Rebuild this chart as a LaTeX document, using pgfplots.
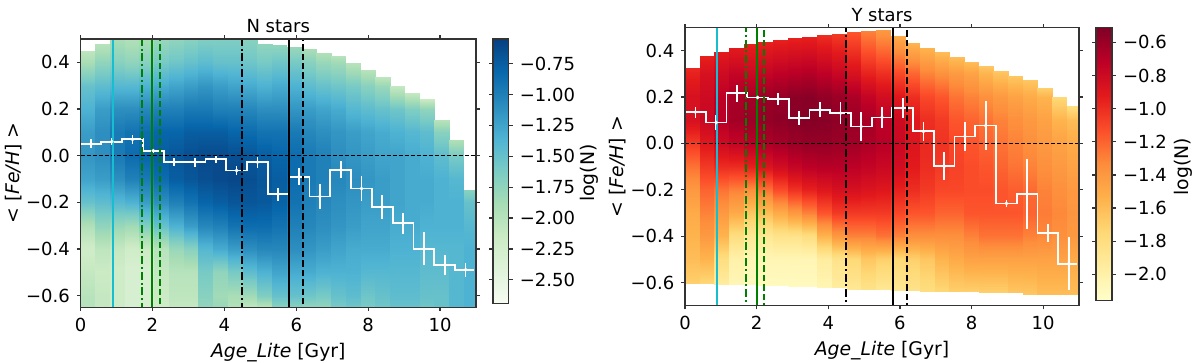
\documentclass[border=0pt]{standalone}
\usepackage{pgfplots}
\pgfplotsset{compat=1.18}
\usepackage{fontspec}
\setmainfont{DejaVu Sans}
\definecolor{tabcyan}{RGB}{23,190,207}
\definecolor{mplgreen}{RGB}{0,128,0}
\pgfplotsset{
  colormap={gnbu}{rgb255=(247,252,240) rgb255=(224,243,219) rgb255=(204,235,197) rgb255=(168,221,181) rgb255=(123,204,196) rgb255=(78,179,211) rgb255=(43,140,190) rgb255=(8,104,172) rgb255=(8,64,129)},
  colormap={ylorrd}{rgb255=(255,255,204) rgb255=(255,237,160) rgb255=(254,217,118) rgb255=(254,178,76) rgb255=(253,141,60) rgb255=(252,78,42) rgb255=(227,26,28) rgb255=(189,0,38) rgb255=(128,0,38)},
  every axis title/.style={at={(0.5,1)}, anchor=base, yshift=3pt},
  hmap/.style={surf, shader=interp, mesh/cols=2, point meta=explicit, forget plot},
  panel/.style={scale only axis, xmin=0, xmax=11, axis on top, tick align=outside,
    major tick length=1.8pt,
    xtick={0,2,4,6,8,10}, xticklabels={0,2,4,6,8,10},
    ytick={-0.6,-0.4,-0.2,0,0.2,0.4}, yticklabels={−0.6,−0.4,−0.2,0.0,0.2,0.4},
    font=\fontsize{9}{11}\selectfont,
    xlabel={\textit{Age\_Lite} [Gyr]}, ylabel={<\ [\textit{Fe/H}]\ >},
    xlabel style={yshift=1pt, font=\fontsize{9.4}{11}\selectfont},
    axis line style={black!80, line width=0.6pt},
    every tick/.style={black!80, line width=0.6pt},
    colorbar},
  cbar/.style={font=\fontsize{9}{11}\selectfont, anchor=north west,
    yticklabel pos=right, tick align=outside, major tick length=2pt,
    axis line style={black!80, line width=0.6pt}, every tick/.style={black!80, line width=0.6pt}},
  stepline/.style={white, line width=0.9pt, const plot, forget plot},
  errpts/.style={white, only marks, mark=*, mark size=0.7pt, forget plot,
    error bars/.cd, x dir=both, x explicit, y dir=both, y explicit,
    error bar style={white, line width=0.85pt}, error mark=none},
  hdash/.style={black, line width=0.6pt, dash pattern=on 2pt off 1pt, forget plot},
  vsolid/.style={line width=1pt, forget plot},
  vdash/.style={line width=1pt, dash pattern=on 3.2pt off 1.5pt, forget plot},
  vdashdot/.style={line width=1pt, dash pattern=on 4pt off 1.4pt on 1pt off 1.4pt, forget plot},
}
\newcommand\hcol[3]{%
  \gdef\hcpts{}%
  \foreach \yy/\cc in {#3}{\xdef\hcpts{\hcpts (#1,\yy) [\cc] (#2,\yy) [\cc]}}%
  \edef\hcdo{\noexpand\addplot[hmap] coordinates {\hcpts};}%
  \hcdo}
\begin{document}
\begin{tikzpicture}
\useasboundingbox (0,0) rectangle (600pt,181.5pt);
% ---------------- N stars ----------------
\begin{axis}[panel, name=nax, at={(40.25pt,27.85pt)}, anchor=south west,
  width=197.75pt, height=134.15pt, ymin=-0.65, ymax=0.5,
  ylabel style={at={(axis description cs:-0.168,0.5)}, anchor=center, font=\fontsize{9.4}{11}\selectfont},
  title={N stars}, colormap name=gnbu,
  point meta min=-2.69, point meta max=-0.55,
  colorbar style={cbar, width=7.85pt, height=132.15pt,
    at={([xshift=6.15pt,yshift=-1pt]parent axis.north east)},
    ytick={-2.5,-2.25,-2,-1.75,-1.5,-1.25,-1,-0.75},
    yticklabels={−2.50,−2.25,−2.00,−1.75,−1.50,−1.25,−1.00,−0.75}}]
\hcol{0}{0.41}{-0.65/-2.0, -0.6/-2.0, -0.5/-2.1, -0.4/-2.2, -0.3/-1.95, -0.2/-1.5, -0.1/-1.25, 0/-1.15, 0.1/-1.2, 0.2/-1.35, 0.3/-1.5, 0.4/-1.9, 0.45/-2.05}
\hcol{0.41}{0.82}{-0.65/-2.1, -0.6/-2.1, -0.5/-2.15, -0.4/-2.05, -0.3/-1.75, -0.2/-1.45, -0.1/-1.2, 0/-1.1, 0.1/-1.1, 0.2/-1.2, 0.3/-1.45, 0.4/-1.75, 0.48/-2.0}
\hcol{0.82}{1.23}{-0.65/-2.2, -0.6/-2.2, -0.5/-2.2, -0.4/-2.1, -0.3/-1.8, -0.2/-1.4, -0.1/-1.1, 0/-0.95, 0.1/-0.95, 0.2/-1.1, 0.3/-1.4, 0.4/-1.7, 0.5/-1.9}
\hcol{1.23}{1.64}{-0.65/-2.3, -0.6/-2.3, -0.5/-2.3, -0.4/-2.2, -0.3/-1.85, -0.2/-1.35, -0.1/-1.0, 0/-0.85, 0.1/-0.9, 0.2/-1.1, 0.3/-1.4, 0.4/-1.75, 0.5/-1.95}
\hcol{1.64}{2.05}{-0.65/-2.3, -0.6/-2.3, -0.5/-2.3, -0.4/-2.15, -0.3/-1.65, -0.2/-1.2, -0.1/-0.95, 0/-0.8, 0.1/-0.85, 0.2/-1.05, 0.3/-1.35, 0.4/-1.7, 0.5/-1.9}
\hcol{2.05}{2.46}{-0.65/-2.2, -0.6/-2.15, -0.5/-2.1, -0.4/-2.0, -0.3/-1.5, -0.2/-1.1, -0.1/-0.85, 0/-0.75, 0.1/-0.8, 0.2/-1.0, 0.3/-1.3, 0.4/-1.6, 0.5/-1.8}
\hcol{2.46}{2.87}{-0.65/-2.1, -0.6/-2.05, -0.5/-2.0, -0.4/-1.8, -0.3/-1.35, -0.2/-1.0, -0.1/-0.75, 0/-0.7, 0.1/-0.8, 0.2/-1.0, 0.3/-1.25, 0.4/-1.55, 0.5/-1.75}
\hcol{2.87}{3.28}{-0.65/-2.1, -0.6/-2.05, -0.5/-2.0, -0.4/-1.7, -0.3/-1.2, -0.2/-0.9, -0.1/-0.7, 0/-0.65, 0.1/-0.75, 0.2/-0.95, 0.3/-1.2, 0.4/-1.5, 0.5/-1.7}
\hcol{3.28}{3.69}{-0.65/-1.75, -0.6/-1.7, -0.5/-1.6, -0.4/-1.4, -0.3/-1.05, -0.2/-0.8, -0.1/-0.65, 0/-0.62, 0.1/-0.75, 0.2/-0.95, 0.3/-1.15, 0.4/-1.45, 0.5/-1.65}
\hcol{3.69}{4.10}{-0.65/-1.8, -0.6/-1.85, -0.5/-1.75, -0.4/-1.3, -0.3/-1.0, -0.2/-0.75, -0.1/-0.62, 0/-0.62, 0.1/-0.75, 0.2/-1.0, 0.3/-1.2, 0.4/-1.5, 0.5/-1.65}
\hcol{4.10}{4.51}{-0.65/-1.95, -0.6/-1.9, -0.5/-1.6, -0.4/-1.2, -0.3/-0.9, -0.2/-0.7, -0.1/-0.6, 0/-0.65, 0.1/-0.8, 0.2/-1.0, 0.3/-1.25, 0.4/-1.5, 0.5/-1.65}
\hcol{4.51}{4.92}{-0.65/-2.05, -0.6/-1.85, -0.5/-1.45, -0.4/-1.1, -0.3/-0.85, -0.2/-0.7, -0.1/-0.65, 0/-0.7, 0.1/-0.85, 0.2/-1.05, 0.3/-1.3, 0.4/-1.55, 0.5/-1.7}
\hcol{4.92}{5.33}{-0.65/-2.0, -0.6/-1.65, -0.5/-1.35, -0.4/-1.05, -0.3/-0.85, -0.2/-0.72, -0.1/-0.7, 0/-0.75, 0.1/-0.9, 0.2/-1.1, 0.3/-1.35, 0.4/-1.6, 0.48/-1.75}
\hcol{5.33}{5.74}{-0.65/-1.7, -0.6/-1.5, -0.5/-1.25, -0.4/-1.05, -0.3/-0.9, -0.2/-0.78, -0.1/-0.75, 0/-0.8, 0.1/-0.9, 0.2/-1.1, 0.3/-1.3, 0.4/-1.55, 0.475/-1.75}
\hcol{5.74}{6.15}{-0.65/-1.7, -0.6/-1.5, -0.5/-1.3, -0.4/-1.1, -0.3/-1.0, -0.2/-0.9, -0.1/-0.85, 0/-0.85, 0.1/-0.95, 0.2/-1.15, 0.3/-1.35, 0.4/-1.6, 0.465/-1.8}
\hcol{6.15}{6.56}{-0.65/-1.75, -0.6/-1.55, -0.5/-1.3, -0.4/-1.15, -0.3/-1.05, -0.2/-1.0, -0.1/-0.95, 0/-0.95, 0.1/-1.05, 0.2/-1.2, 0.3/-1.45, 0.4/-1.7, 0.455/-1.9}
\hcol{6.56}{6.97}{-0.65/-1.75, -0.6/-1.6, -0.5/-1.35, -0.4/-1.2, -0.3/-1.1, -0.2/-1.05, -0.1/-1.0, 0/-1.0, 0.1/-1.1, 0.2/-1.25, 0.3/-1.5, 0.4/-1.8, 0.44/-1.95}
\hcol{6.97}{7.38}{-0.65/-1.6, -0.6/-1.5, -0.5/-1.35, -0.4/-1.25, -0.3/-1.15, -0.2/-1.1, -0.1/-1.05, 0/-1.1, 0.1/-1.15, 0.2/-1.3, 0.3/-1.55, 0.4/-1.85, 0.427/-2.0}
\hcol{7.38}{7.79}{-0.65/-1.55, -0.6/-1.45, -0.5/-1.35, -0.4/-1.3, -0.3/-1.2, -0.2/-1.15, -0.1/-1.1, 0/-1.15, 0.1/-1.2, 0.2/-1.4, 0.3/-1.6, 0.397/-2.0}
\hcol{7.79}{8.20}{-0.65/-1.6, -0.6/-1.55, -0.5/-1.4, -0.4/-1.3, -0.3/-1.25, -0.2/-1.2, -0.1/-1.15, 0/-1.2, 0.1/-1.25, 0.2/-1.45, 0.3/-1.7, 0.368/-2.0}
\hcol{8.20}{8.61}{-0.65/-1.55, -0.6/-1.5, -0.5/-1.4, -0.4/-1.3, -0.3/-1.25, -0.2/-1.2, -0.1/-1.2, 0/-1.25, 0.1/-1.3, 0.2/-1.5, 0.3/-1.8, 0.339/-2.05}
\hcol{8.61}{9.02}{-0.65/-1.5, -0.6/-1.45, -0.5/-1.4, -0.4/-1.35, -0.3/-1.3, -0.2/-1.25, -0.1/-1.25, 0/-1.25, 0.1/-1.35, 0.2/-1.55, 0.30/-2.1}
\hcol{9.02}{9.43}{-0.65/-1.5, -0.6/-1.45, -0.5/-1.4, -0.4/-1.35, -0.3/-1.3, -0.2/-1.3, -0.1/-1.3, 0/-1.3, 0.1/-1.4, 0.2/-1.65, 0.27/-2.1}
\hcol{9.43}{9.84}{-0.65/-1.55, -0.6/-1.5, -0.5/-1.45, -0.4/-1.4, -0.3/-1.35, -0.2/-1.3, -0.1/-1.3, 0/-1.35, 0.1/-1.45, 0.2/-1.75, 0.242/-2.15}
\hcol{9.84}{10.25}{-0.65/-1.5, -0.6/-1.5, -0.5/-1.45, -0.4/-1.4, -0.3/-1.35, -0.2/-1.35, -0.1/-1.35, 0/-1.45, 0.1/-1.7, 0.152/-2.0}
\hcol{10.25}{10.66}{-0.65/-1.4, -0.6/-1.4, -0.5/-1.4, -0.4/-1.4, -0.3/-1.35, -0.2/-1.35, -0.1/-1.4, 0/-1.6, 0.065/-1.95}
\hcol{10.66}{11.07}{-0.65/-1.35, -0.6/-1.35, -0.5/-1.35, -0.4/-1.35, -0.3/-1.4, -0.2/-1.5, -0.147/-1.7}
\addplot[stepline] coordinates {(0,0.051) (0.579,0.060) (1.158,0.070) (1.737,0.021) (2.316,-0.028) (2.895,-0.028) (3.474,-0.015) (4.053,-0.064) (4.632,-0.028) (5.211,-0.165) (5.789,-0.090) (6.368,-0.175) (6.947,-0.061) (7.526,-0.141) (8.105,-0.220) (8.684,-0.290) (9.263,-0.399) (9.842,-0.469) (10.421,-0.489) (10.95,-0.489)};
\addplot[errpts] coordinates {(0.289,0.051) +- (0.07,0.020) (0.868,0.060) +- (0.07,0.014) (1.447,0.070) +- (0.07,0.018) (2.026,0.021) +- (0.07,0.008) (2.605,-0.028) +- (0.07,0.018) (3.184,-0.028) +- (0.07,0.019) (3.763,-0.015) +- (0.07,0.016) (4.342,-0.064) +- (0.07,0.019) (4.921,-0.028) +- (0.07,0.024) (5.5,-0.165) +- (0.07,0.028) (6.079,-0.090) +- (0.07,0.036) (6.658,-0.175) +- (0.07,0.055) (7.237,-0.061) +- (0.07,0.036) (7.816,-0.141) +- (0.07,0.052) (8.395,-0.220) +- (0.07,0.053) (8.974,-0.290) +- (0.07,0.045) (9.553,-0.399) +- (0.07,0.071) (10.132,-0.469) +- (0.07,0.043) (10.711,-0.489) +- (0.07,0.030)};
\addplot[hdash] coordinates {(0,0) (11,0)};
\addplot[vsolid, tabcyan] coordinates {(0.9,-1) (0.9,1)};
\addplot[vdashdot, mplgreen] coordinates {(1.7,-1) (1.7,1)};
\addplot[vsolid, mplgreen] coordinates {(2.0,-1) (2.0,1)};
\addplot[vdash, mplgreen] coordinates {(2.2,-1) (2.2,1)};
\addplot[vdashdot, black] coordinates {(4.5,-1) (4.5,1)};
\addplot[vsolid, black] coordinates {(5.8,-1) (5.8,1)};
\addplot[vdash, black] coordinates {(6.2,-1) (6.2,1)};
\end{axis}
\node[rotate=90, font=\fontsize{9.4}{11}\selectfont] at ([xshift=56.5pt]nax.east) {log(N)};
% ---------------- Y stars ----------------
\begin{axis}[panel, name=yax, at={(342.5pt,28.65pt)}, anchor=south west,
  width=197pt, height=139.1pt, ymin=-0.7, ymax=0.5,
  ylabel style={at={(axis description cs:-0.170,0.5)}, anchor=center, font=\fontsize{9.4}{11}\selectfont},
  title={Y stars}, colormap name=ylorrd,
  point meta min=-2.16, point meta max=-0.51,
  colorbar style={cbar, width=8pt, height=136.65pt,
    at={([xshift=10.5pt,yshift=-1.25pt]parent axis.north east)},
    ytick={-2,-1.8,-1.6,-1.4,-1.2,-1,-0.8,-0.6},
    yticklabels={−2.0,−1.8,−1.6,−1.4,−1.2,−1.0,−0.8,−0.6}}]
\hcol{0}{0.41}{-0.605/-1.7, -0.5/-1.6, -0.4/-1.55, -0.3/-1.5, -0.2/-1.4, -0.1/-1.25, 0/-1.05, 0.1/-0.85, 0.2/-0.85, 0.3/-0.95, 0.327/-0.98}
\hcol{0.41}{0.82}{-0.605/-1.75, -0.5/-1.55, -0.4/-1.4, -0.3/-1.3, -0.2/-1.2, -0.1/-1.05, 0/-0.9, 0.1/-0.78, 0.2/-0.8, 0.3/-0.85, 0.378/-0.95}
\hcol{0.82}{1.23}{-0.608/-1.95, -0.5/-1.8, -0.4/-1.55, -0.3/-1.4, -0.2/-1.25, -0.1/-1.0, 0/-0.8, 0.1/-0.7, 0.2/-0.72, 0.3/-0.8, 0.393/-0.92}
\hcol{1.23}{1.64}{-0.608/-2.05, -0.5/-2.0, -0.4/-1.8, -0.3/-1.5, -0.2/-1.3, -0.1/-1.0, 0/-0.75, 0.1/-0.63, 0.2/-0.65, 0.3/-0.75, 0.413/-0.92}
\hcol{1.64}{2.05}{-0.61/-2.1, -0.5/-2.05, -0.4/-1.9, -0.3/-1.65, -0.2/-1.35, -0.1/-0.95, 0/-0.7, 0.1/-0.6, 0.2/-0.63, 0.3/-0.78, 0.427/-0.95}
\hcol{2.05}{2.46}{-0.612/-2.1, -0.5/-2.05, -0.4/-1.9, -0.3/-1.6, -0.2/-1.25, -0.1/-0.88, 0/-0.66, 0.1/-0.58, 0.2/-0.6, 0.3/-0.75, 0.439/-0.95}
\hcol{2.46}{2.87}{-0.615/-2.1, -0.5/-2.05, -0.4/-1.85, -0.3/-1.5, -0.2/-1.12, -0.1/-0.82, 0/-0.63, 0.1/-0.56, 0.2/-0.58, 0.3/-0.72, 0.447/-0.95}
\hcol{2.87}{3.28}{-0.618/-2.1, -0.5/-2.05, -0.4/-1.85, -0.3/-1.4, -0.2/-1.02, -0.1/-0.76, 0/-0.6, 0.1/-0.54, 0.2/-0.55, 0.3/-0.7, 0.453/-0.95}
\hcol{3.28}{3.69}{-0.618/-2.1, -0.5/-2.05, -0.4/-1.8, -0.3/-1.3, -0.2/-0.95, -0.1/-0.72, 0/-0.58, 0.1/-0.53, 0.2/-0.54, 0.3/-0.68, 0.46/-0.95}
\hcol{3.69}{4.10}{-0.622/-2.05, -0.5/-1.95, -0.4/-1.55, -0.3/-1.15, -0.2/-0.9, -0.1/-0.7, 0/-0.58, 0.1/-0.54, 0.2/-0.57, 0.3/-0.72, 0.467/-1.0}
\hcol{4.10}{4.51}{-0.622/-1.95, -0.5/-1.85, -0.4/-1.4, -0.3/-1.05, -0.2/-0.85, -0.1/-0.7, 0/-0.6, 0.1/-0.56, 0.2/-0.6, 0.3/-0.77, 0.472/-1.05}
\hcol{4.51}{4.92}{-0.629/-1.9, -0.5/-1.75, -0.4/-1.3, -0.3/-1.05, -0.2/-0.85, -0.1/-0.72, 0/-0.62, 0.1/-0.6, 0.2/-0.66, 0.3/-0.85, 0.479/-1.15}
\hcol{4.92}{5.33}{-0.632/-1.85, -0.5/-1.65, -0.4/-1.3, -0.3/-1.05, -0.2/-0.88, -0.1/-0.75, 0/-0.66, 0.1/-0.65, 0.2/-0.75, 0.3/-0.95, 0.485/-1.3}
\hcol{5.33}{5.74}{-0.632/-1.9, -0.5/-1.7, -0.4/-1.25, -0.3/-1.05, -0.2/-0.9, -0.1/-0.78, 0/-0.7, 0.1/-0.72, 0.2/-0.82, 0.3/-1.0, 0.489/-1.4}
\hcol{5.74}{6.15}{-0.635/-1.9, -0.5/-1.75, -0.4/-1.3, -0.3/-1.1, -0.2/-0.95, -0.1/-0.82, 0/-0.78, 0.1/-0.8, 0.2/-0.9, 0.3/-1.1, 0.462/-1.5}
\hcol{6.15}{6.56}{-0.635/-1.85, -0.5/-1.7, -0.4/-1.35, -0.3/-1.15, -0.2/-1.0, -0.1/-0.92, 0/-0.88, 0.1/-0.9, 0.2/-1.0, 0.3/-1.2, 0.432/-1.55}
\hcol{6.56}{6.97}{-0.64/-1.8, -0.5/-1.65, -0.4/-1.35, -0.3/-1.15, -0.2/-1.05, -0.1/-1.0, 0/-0.98, 0.1/-1.0, 0.2/-1.1, 0.3/-1.3, 0.413/-1.55}
\hcol{6.97}{7.38}{-0.64/-1.75, -0.5/-1.55, -0.4/-1.35, -0.3/-1.2, -0.2/-1.1, -0.1/-1.05, 0/-1.02, 0.1/-1.05, 0.2/-1.15, 0.3/-1.35, 0.393/-1.6}
\hcol{7.38}{7.79}{-0.64/-1.7, -0.5/-1.5, -0.4/-1.35, -0.3/-1.2, -0.2/-1.1, -0.1/-1.08, 0/-1.1, 0.1/-1.15, 0.2/-1.25, 0.3/-1.4, 0.373/-1.6}
\hcol{7.79}{8.20}{-0.64/-1.7, -0.5/-1.45, -0.4/-1.3, -0.3/-1.15, -0.2/-1.12, -0.1/-1.12, 0/-1.15, 0.1/-1.2, 0.2/-1.3, 0.3/-1.45, 0.353/-1.6}
\hcol{8.20}{8.61}{-0.645/-1.7, -0.5/-1.45, -0.4/-1.25, -0.3/-1.15, -0.2/-1.12, -0.1/-1.15, 0/-1.2, 0.1/-1.25, 0.2/-1.35, 0.3/-1.55, 0.333/-1.65}
\hcol{8.61}{9.02}{-0.645/-1.7, -0.5/-1.45, -0.4/-1.25, -0.3/-1.15, -0.2/-1.15, -0.1/-1.2, 0/-1.25, 0.1/-1.3, 0.2/-1.4, 0.313/-1.65}
\hcol{9.02}{9.43}{-0.645/-1.65, -0.5/-1.45, -0.4/-1.25, -0.3/-1.15, -0.2/-1.18, -0.1/-1.25, 0/-1.3, 0.1/-1.35, 0.2/-1.45, 0.292/-1.65}
\hcol{9.43}{9.84}{-0.65/-1.65, -0.5/-1.45, -0.4/-1.3, -0.3/-1.2, -0.2/-1.22, -0.1/-1.3, 0/-1.35, 0.1/-1.4, 0.2/-1.5, 0.274/-1.65}
\hcol{9.84}{10.25}{-0.65/-1.6, -0.5/-1.45, -0.4/-1.32, -0.3/-1.28, -0.2/-1.3, -0.1/-1.35, 0/-1.4, 0.1/-1.45, 0.2/-1.55, 0.241/-1.7}
\hcol{10.25}{10.66}{-0.65/-1.6, -0.5/-1.45, -0.4/-1.35, -0.3/-1.32, -0.2/-1.35, -0.1/-1.4, 0/-1.45, 0.1/-1.55, 0.202/-1.75}
\hcol{10.66}{11.07}{-0.65/-1.6, -0.5/-1.5, -0.4/-1.4, -0.3/-1.38, -0.2/-1.4, -0.1/-1.45, 0/-1.5, 0.1/-1.6, 0.162/-1.8}
\addplot[stepline] coordinates {(0,0.135) (0.579,0.090) (1.158,0.217) (1.737,0.198) (2.316,0.192) (2.895,0.109) (3.474,0.145) (4.053,0.131) (4.632,0.073) (5.211,0.112) (5.789,0.152) (6.368,0.052) (6.947,-0.099) (7.526,0.030) (8.105,0.077) (8.684,-0.259) (9.263,-0.218) (9.842,-0.388) (10.421,-0.519) (10.95,-0.519)};
\addplot[errpts] coordinates {(0.289,0.135) +- (0.07,0.024) (0.868,0.090) +- (0.07,0.032) (1.447,0.217) +- (0.07,0.037) (2.026,0.198) +- (0.07,0.006) (2.605,0.192) +- (0.07,0.026) (3.184,0.109) +- (0.07,0.030) (3.763,0.145) +- (0.07,0.032) (4.342,0.131) +- (0.07,0.049) (4.921,0.073) +- (0.07,0.063) (5.5,0.112) +- (0.07,0.046) (6.079,0.152) +- (0.07,0.043) (6.658,0.052) +- (0.07,0.042) (7.237,-0.099) +- (0.07,0.060) (7.816,0.030) +- (0.07,0.062) (8.395,0.077) +- (0.07,0.106) (8.974,-0.259) +- (0.07,0.014) (9.553,-0.218) +- (0.07,0.152) (10.132,-0.388) +- (0.07,0.039) (10.711,-0.519) +- (0.07,0.115)};
\addplot[hdash] coordinates {(0,0) (11,0)};
\addplot[vsolid, tabcyan] coordinates {(0.9,-1) (0.9,1)};
\addplot[vdashdot, mplgreen] coordinates {(1.7,-1) (1.7,1)};
\addplot[vsolid, mplgreen] coordinates {(2.0,-1) (2.0,1)};
\addplot[vdash, mplgreen] coordinates {(2.2,-1) (2.2,1)};
\addplot[vdashdot, black] coordinates {(4.5,-1) (4.5,1)};
\addplot[vsolid, black] coordinates {(5.8,-1) (5.8,1)};
\addplot[vdash, black] coordinates {(6.2,-1) (6.2,1)};
\end{axis}
\node[rotate=90, font=\fontsize{9.4}{11}\selectfont] at ([xshift=52pt]yax.east) {log(N)};
\end{tikzpicture}
\end{document}
